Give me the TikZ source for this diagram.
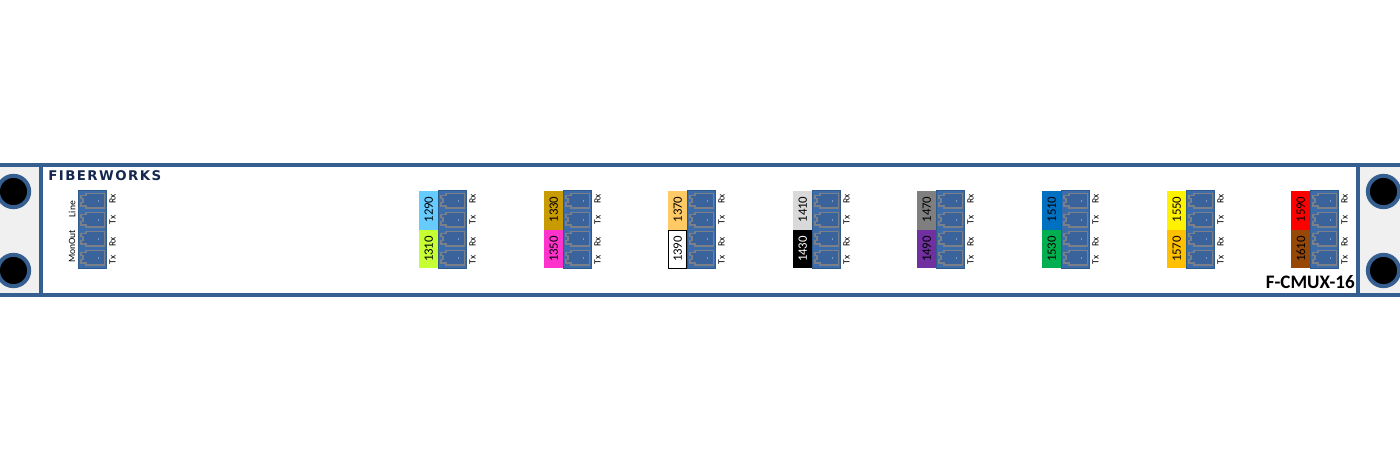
\documentclass[tikz,border=0pt]{standalone}
\usepackage{fontspec}
\setmainfont{Carlito}
\newfontfamily\fwfont[LetterSpace=11]{DejaVu Sans}
\definecolor{band}{HTML}{365F91}
\definecolor{ear}{HTML}{F0F0F0}
\definecolor{blockfill}{HTML}{3D6CAA}
\definecolor{blockedge}{HTML}{2F5A8C}
\definecolor{portedge}{HTML}{7A7F88}
\definecolor{portin}{HTML}{3A639C}
\definecolor{portdotc}{HTML}{7F9CC4}
\definecolor{navy}{HTML}{14284F}
\definecolor{c1290}{HTML}{66CCFF}
\definecolor{c1310}{HTML}{C6FF33}
\definecolor{c1330}{HTML}{C89B00}
\definecolor{c1350}{HTML}{FF33CC}
\definecolor{c1370}{HTML}{FFC966}
\definecolor{c1410}{HTML}{D9D9D9}
\definecolor{c1470}{HTML}{7F7F7F}
\definecolor{c1490}{HTML}{7030A0}
\definecolor{c1510}{HTML}{0070C0}
\definecolor{c1530}{HTML}{00B050}
\definecolor{c1570}{HTML}{FFC000}
\definecolor{c1610}{HTML}{974706}
\tikzset{
  x=0.75pt,y=-0.75pt,
  bandbar/.style={fill=band,draw=none},
  earpanel/.style={fill=ear,draw=none},
  hole/.style={circle,fill=black,draw=band,line width=3pt,minimum size=23.5pt,inner sep=0pt},
  block/.style={fill=blockfill,draw=blockedge,line width=1pt},
  portline/.style={draw=portedge,line width=1.3pt,fill=portin},
  portdot/.style={fill=portdotc,draw=none},
  wl/.style={rotate=90,inner sep=0pt,font=\fontsize{9.6}{10}\selectfont},
  tiny/.style={rotate=90,inner sep=0pt,font=\fontsize{7.2}{8}\selectfont,text=black},
  side/.style={rotate=90,inner sep=0pt,font=\fontsize{7.2}{8}\selectfont,text=black},
}
\newcommand{\portat}[2]{%
  \draw[portline] (#1+3,#2+2) -- (#1+8,#2+2) -- (#1+8,#2) -- (#1+26.5,#2) -- (#1+26.5,#2+14.5) -- (#1+8,#2+14.5) -- (#1+8,#2+12.5) -- (#1+3,#2+12.5) -- (#1+3,#2+9) -- (#1+5,#2+9) -- (#1+5,#2+5) -- (#1+3,#2+5) -- cycle;
  \fill[portdot] (#1+19.5,#2+6.5) rectangle (#1+21,#2+8);
}
\newcommand{\connector}[2]{%
  \draw[block] (#1+.5,190.5) rectangle (#1+28.5,268.5);
  \portat{#1}{193.5}\portat{#1}{212.5}\portat{#1}{231.5}\portat{#1}{250.5}
  \node[tiny] (rxa#2) at (#1+34.5,199) {Rx};
  \node[tiny] (txa#2) at (#1+34.5,220) {Tx};
  \node[tiny] (rxb#2) at (#1+34.5,242) {Rx};
  \node[tiny] (txb#2) at (#1+34.5,260) {Tx};
}
\newcommand{\wave}[8]{%
  \fill[#3] (#1-19,191) rectangle (#1,229.5);
  \fill[#6] (#1-19,229.5) rectangle (#1,268);
  #8
  \node[wl,text=#4] (w#2) at (#1-9.2,209.5) {#2};
  \node[wl,text=#7] (w#5) at (#1-9.2,249) {#5};
  \connector{#1}{#2}
}
\begin{document}
\begin{tikzpicture}
\useasboundingbox (0,0) rectangle (1400,468);
\fill[white] (0,0) rectangle (1400,468);
\fill[earpanel] (0,167) rectangle (39,293);
\fill[earpanel] (1360,167) rectangle (1400,293);
\fill[bandbar] (0,163) rectangle (1400,167);
\fill[bandbar] (0,293) rectangle (1400,297);
\fill[bandbar] (39,163) rectangle (43,297);
\fill[bandbar] (1356,163) rectangle (1360,297);
\node[hole] (h1) at (13.5,191.5) {};
\node[hole] (h2) at (13.5,270.5) {};
\node[hole] (h3) at (1383.5,191.5) {};
\node[hole] (h4) at (1383.5,270.5) {};
\node[inner sep=0pt,anchor=west,text=navy,font=\fwfont\bfseries\fontsize{10}{12}\selectfont] (logo) at (48,176) {FIBERWORKS};
\node[inner sep=0pt,anchor=east,font=\bfseries\fontsize{14.3}{15}\selectfont] (model) at (1355,282) {F-CMUX-16};
\node[side] (line) at (72,209) {Line};
\node[side] (monout) at (72,246.5) {MonOut};
\connector{78}{main}
\wave{438}{1290}{c1290}{black}{1310}{c1310}{black}{}
\wave{563}{1330}{c1330}{black}{1350}{c1350}{black}{}
\wave{687}{1370}{c1370}{black}{1390}{white}{black}{\draw[black,line width=0.75pt] (668.5,230) rectangle (686.5,268);}
\wave{812}{1410}{c1410}{black}{1430}{black}{white}{}
\wave{936}{1470}{c1470}{black}{1490}{c1490}{black}{}
\wave{1061}{1510}{c1510}{black}{1530}{c1530}{black}{}
\wave{1186}{1550}{yellow}{black}{1570}{c1570}{black}{}
\wave{1310}{1590}{red}{black}{1610}{c1610}{black}{}
\end{tikzpicture}
\end{document}
